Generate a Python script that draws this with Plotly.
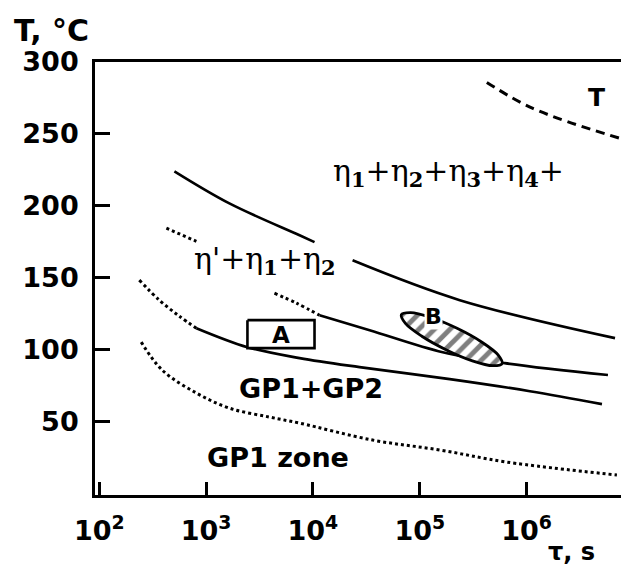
import math
import plotly.graph_objects as go

# ---- phase-boundary curves: ageing time tau (s) vs temperature T (deg C) ----
# upper solid boundary (eta' field / eta1+..+eta4 field); gap where the label sits
tau_upper = [505, 1652, 7499, 10350, None, 23500, 237100, 6.73e6]
T_upper = [224.0, 201.7, 179.5, 174.7, None, 162.1, 134.4, 108.0]

# middle boundary: dotted start, then solid
tau_mid_dot = [425, 811, None, 4365, 7015, 11530]
T_mid_dot = [184.4, 175.3, None, 139.2, 132.3, 123.9]
tau_mid = [11530, 33960, 164100, 625200, 5.78e6]
T_mid = [123.9, 113.5, 98.2, 90.6, 82.3]

# lower boundary of the eta' field (top of GP1+GP2): dotted start, then solid
tau_low_dot = [237, 365, 562, 811]
T_low_dot = [148.3, 134.4, 123.2, 114.9]
tau_low = [811, 2438, 7499, 27350, 191000, 1.074e6, 5.08e6]
T_low = [114.9, 101.7, 94.1, 87.8, 79.5, 71.1, 62.1]

# GP1 zone upper limit (dotted)
tau_gp1 = [247, 389, 811, 1652, 3917, 7499, 36220, 153800, 653100, 7.01e6]
T_gp1 = [105.2, 85.7, 69.8, 59.3, 53.1, 48.9, 37.1, 30.2, 21.8, 12.8]

# T phase boundary (dashed)
tau_t = [424600, 1.146e6, 7.48e6]
T_t = [285.8, 267.7, 246.9]

# region A (rectangle) and region B (hatched outline)
tau_A = [2438, 10350, 10350, 2438, 2438]
T_A = [120.5, 120.5, 101.0, 101.0, 120.5]
tau_B = [590200, 483100, 311200, 177800, 104700, 73450, 67300, 82220,
         127600, 223400, 379300, 540800, 590200]
T_B = [90.25, 88.8, 92.2, 99.8, 109.3, 118.2, 124.3, 125.7,
       122.3, 114.8, 105.3, 96.3, 90.25]

# axis ticks
x_tickvals = [1e2, 1e3, 1e4, 1e5, 1e6]
x_ticktext = ["10<sup>2</sup>", "10<sup>3</sup>", "10<sup>4</sup>",
              "10<sup>5</sup>", "10<sup>6</sup>"]
y_tickvals = [50, 100, 150, 200, 250, 300]

# field labels: (text, tau, T, font family, size, bold)
SERIF = "DejaVu Serif"
SANS = "DejaVu Sans"
labels = [
    ("T", 4.56e6, 275.4, SANS, 25, True),
    ("η<sub><b>1</b></sub>+η<sub><b>2</b></sub>+η<sub><b>3</b></sub>+η<sub><b>4</b></sub>+",
     186600, 223.3, SERIF, 30, False),
    ("η'+η<sub><b>1</b></sub>+η<sub><b>2</b></sub>", 3524, 162.1, SERIF, 30, False),
    ("GP1+GP2", 9506, 73.2, SANS, 27, True),
    ("GP1 zone", 4660, 25.3, SANS, 27, True),
]

fig = go.Figure()


def curve(x, y, dash="solid", width=2.6):
    fig.add_trace(go.Scatter(
        x=x, y=y, mode="lines", hoverinfo="skip", showlegend=False,
        line=dict(color="black", width=width, dash=dash,
                  shape="spline", smoothing=1.0),
    ))


curve(tau_upper, T_upper)
curve(tau_mid_dot, T_mid_dot, dash="dot", width=3)
curve(tau_mid, T_mid)
curve(tau_low_dot, T_low_dot, dash="dot", width=3)
curve(tau_low, T_low)
curve(tau_gp1, T_gp1, dash="dot", width=3)
curve(tau_t, T_t, dash="9px,6px", width=3)

# region A box
fig.add_trace(go.Scatter(
    x=tau_A, y=T_A, mode="lines", fill="toself", fillcolor="white",
    line=dict(color="black", width=2.6), hoverinfo="skip", showlegend=False,
))

# region B: hatched closed outline
fig.add_trace(go.Scatter(
    x=tau_B, y=T_B, mode="lines", fill="toself",
    fillpattern=dict(shape="/", fgcolor="black", bgcolor="white",
                     size=11, solidity=0.45),
    line=dict(color="black", width=2.8, shape="spline", smoothing=1.0),
    hoverinfo="skip", showlegend=False,
))

for text, tau, T, fam, size, bold in labels:
    fig.add_annotation(
        x=math.log10(tau), y=T, xref="x", yref="y", text=text, showarrow=False,
        font=dict(family=fam, size=size, color="black",
                  weight="bold" if bold else "normal"),
    )

fig.add_annotation(x=math.log10(4977), y=110.0, xref="x", yref="y", text="A",
                   showarrow=False,
                   font=dict(family=SANS, size=23, color="black", weight="bold"))
fig.add_annotation(x=math.log10(135200), y=123.2, xref="x", yref="y", text="B",
                   showarrow=False, bgcolor="white", borderpad=0,
                   font=dict(family=SANS, size=22, color="black", weight="bold"))

# axis titles
fig.add_annotation(x=-0.158, y=1.072, xref="paper", yref="paper", text="T, °C",
                   showarrow=False, xanchor="left", yanchor="middle",
                   font=dict(family=SANS, size=30, color="black", weight="bold"))
fig.add_annotation(x=0.905, y=-0.132, xref="paper", yref="paper", text="τ, s",
                   showarrow=False, xanchor="center", yanchor="middle",
                   font=dict(family=SANS, size=24, color="black", weight="bold"))

fig.update_xaxes(
    type="log", range=[1.96, 6.884],
    tickvals=x_tickvals, ticktext=x_ticktext,
    ticks="inside", ticklen=13, tickwidth=2.5, tickcolor="black",
    showline=True, linecolor="black", linewidth=2.8, mirror=True,
    showgrid=False, zeroline=False, ticklabelstandoff=10,
    tickfont=dict(family=SANS, size=27, color="black", weight="bold"),
)
fig.update_yaxes(
    range=[-1.1, 300],
    tickvals=y_tickvals,
    ticks="inside", ticklen=15, tickwidth=2.5, tickcolor="black",
    showline=True, linecolor="black", linewidth=2.8, mirror=False,
    showgrid=False, zeroline=False, ticklabelstandoff=8,
    tickfont=dict(family=SANS, size=27, color="black", weight="bold"),
)

fig.update_layout(
    width=621, height=565,
    margin=dict(l=95, r=0, t=62, b=70),
    paper_bgcolor="white", plot_bgcolor="white",
    showlegend=False,
)

fig.write_html("out.html")
